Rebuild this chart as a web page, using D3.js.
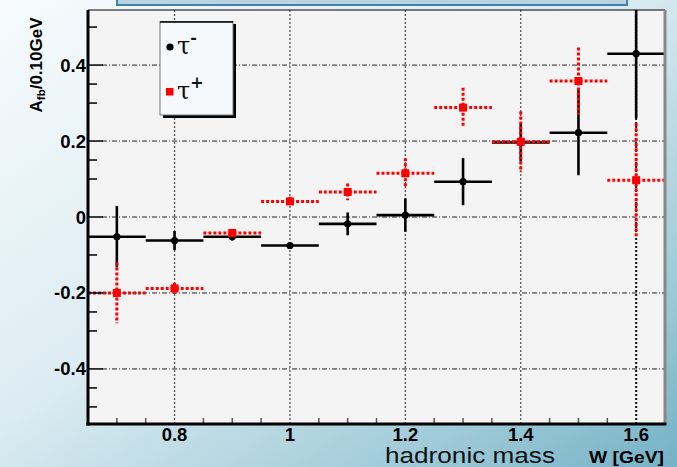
<!DOCTYPE html>
<html>
<head>
<meta charset="utf-8">
<script src="https://cdn.jsdelivr.net/npm/d3@7/dist/d3.min.js"></script>
<style>
  html, body { margin: 0; padding: 0; background: #ffffff; }
  svg { display: block; }
</style>
</head>
<body>
<svg id="chart" width="677" height="467"></svg>
<script>
// Bin centres of the hadronic mass W (GeV), each bin 0.1 GeV wide
const binCentres = [0.7, 0.8, 0.9, 1.0, 1.1, 1.2, 1.3, 1.4, 1.5, 1.6];
const binHalfWidth = 0.05;

// tau- asymmetry per bin and its error
const tauMinusValues = [-0.052, -0.062, -0.052, -0.075, -0.018, 0.005, 0.093, 0.196, 0.222, 0.43];
const tauMinusErrors = [0.081, 0.025, 0.01, 0.008, 0.03, 0.044, 0.062, 0.05, 0.112, 0.17];

// tau+ asymmetry per bin and its error
const tauPlusValues = [-0.2, -0.188, -0.042, 0.041, 0.066, 0.115, 0.288, 0.198, 0.358, 0.097];
const tauPlusErrors = [0.08, 0.015, 0.008, 0.012, 0.022, 0.04, 0.052, 0.08, 0.088, 0.15];

// Axis ticks
const xTickValues = [0.8, 1.0, 1.2, 1.4, 1.6];
const xTickLabels = ["0.8", "1", "1.2", "1.4", "1.6"];
const xMinorTicks = [0.7, 0.75, 0.85, 0.9, 0.95, 1.05, 1.1, 1.15, 1.25, 1.3, 1.35, 1.45, 1.5, 1.55];
const yTickValues = [-0.4, -0.2, 0, 0.2, 0.4];
const yTickLabels = ["-0.4", "-0.2", "0", "0.2", "0.4"];
const yMinorTicks = [0.5, 0.35, 0.3, 0.15, 0.1, -0.1, -0.25, -0.3, -0.45, -0.5];

const legendLabels = ["τ", "τ"];
const legendSupers = ["-", "+"];

const svg = d3.select("#chart");

// Page background gradient
const defs = svg.append("defs");
const bg = defs.append("linearGradient").attr("id", "pageBg")
  .attr("x1", "0").attr("y1", "0").attr("x2", "1").attr("y2", "1");
bg.append("stop").attr("offset", "0").attr("stop-color", "#f7fbfd");
bg.append("stop").attr("offset", "0.45").attr("stop-color", "#dcecf2");
bg.append("stop").attr("offset", "0.8").attr("stop-color", "#9fcad8");
bg.append("stop").attr("offset", "1").attr("stop-color", "#74b2c6");
svg.append("rect").attr("width", 677).attr("height", 467).attr("fill", "url(#pageBg)");

// Banner strip at the top
svg.append("rect").attr("x", 117).attr("y", -6).attr("width", 510).attr("height", 11)
  .attr("fill", "#b9d3e3").attr("stroke", "#3f82aa").attr("stroke-width", 2);

const L = 88, R = 665, T = 10, B = 424;
const x = d3.scaleLinear().domain([0.65, 1.65]).range([L, R]);
const y = d3.scaleLinear().domain([-0.545, 0.545]).range([B, T]);

// Plot area
svg.append("rect").attr("x", L).attr("y", T).attr("width", R - L).attr("height", B - T)
  .attr("fill", "#f4f4f4");

defs.append("clipPath").attr("id", "plotClip")
  .append("rect").attr("x", L).attr("y", T).attr("width", R - L).attr("height", B - T);

// Grid
const grid = svg.append("g");
grid.selectAll("line.h").data(yTickValues).join("line")
  .attr("x1", L + 14).attr("x2", R)
  .attr("y1", d => y(d)).attr("y2", d => y(d))
  .attr("stroke", "#222").attr("stroke-width", 1)
  .attr("stroke-dasharray", "5,2,1,2");
grid.selectAll("line.v").data(xTickValues).join("line")
  .attr("x1", d => x(d)).attr("x2", d => x(d))
  .attr("y1", T).attr("y2", B)
  .attr("stroke", (d, i) => i === 4 ? "#111" : "#555")
  .attr("stroke-width", (d, i) => i === 4 ? 2 : 1.3)
  .attr("stroke-dasharray", "2,2");

// Error-bar series
const plot = svg.append("g").attr("clip-path", "url(#plotClip)");

function drawSeries(values, errors, opts) {
  const g = plot.append("g");
  const rows = binCentres.map((c, i) => ({ c, v: values[i], e: errors[i] }));
  g.selectAll("line.xe").data(rows).join("line")
    .attr("x1", d => x(d.c - binHalfWidth)).attr("x2", d => x(d.c + binHalfWidth))
    .attr("y1", d => y(d.v)).attr("y2", d => y(d.v))
    .attr("stroke", opts.color).attr("stroke-width", opts.width)
    .attr("stroke-dasharray", opts.dash);
  g.selectAll("line.ye").data(rows).join("line")
    .attr("x1", d => x(d.c)).attr("x2", d => x(d.c))
    .attr("y1", d => y(d.v + d.e)).attr("y2", d => y(d.v - d.e))
    .attr("stroke", opts.color).attr("stroke-width", opts.width)
    .attr("stroke-dasharray", opts.dash);
  if (opts.marker === "circle") {
    g.selectAll("circle").data(rows).join("circle")
      .attr("cx", d => x(d.c)).attr("cy", d => y(d.v)).attr("r", 3.6)
      .attr("fill", opts.color);
  } else {
    g.selectAll("rect").data(rows).join("rect")
      .attr("x", d => x(d.c) - 4).attr("y", d => y(d.v) - 4)
      .attr("width", 8).attr("height", 8).attr("fill", opts.color);
  }
}

drawSeries(tauMinusValues, tauMinusErrors, { color: "#000", width: 2.6, dash: null, marker: "circle" });
drawSeries(tauPlusValues, tauPlusErrors, { color: "#ff0000", width: 3, dash: "3,2", marker: "square" });

// Frame
svg.append("line").attr("x1", L).attr("x2", R).attr("y1", T).attr("y2", T)
  .attr("stroke", "#000").attr("stroke-width", 1.2);
svg.append("line").attr("x1", R).attr("x2", R).attr("y1", T).attr("y2", B)
  .attr("stroke", "#888").attr("stroke-width", 3);

// Y axis
const tickFont = "Liberation Sans, Arial, sans-serif";
const yAxis = svg.append("g");
yAxis.selectAll("line.maj").data(yTickValues).join("line")
  .attr("x1", L).attr("x2", L + 15).attr("y1", d => y(d)).attr("y2", d => y(d))
  .attr("stroke", "#000").attr("stroke-width", 1.5);
yAxis.selectAll("line.min").data(yMinorTicks).join("line")
  .attr("x1", L).attr("x2", L + 9).attr("y1", d => y(d)).attr("y2", d => y(d))
  .attr("stroke", "#000").attr("stroke-width", 1.5);
yAxis.selectAll("text").data(yTickValues).join("text")
  .attr("x", L - 2).attr("y", d => y(d) + 6.5)
  .attr("text-anchor", "end")
  .attr("font-family", tickFont)
  .attr("font-weight", "bold").attr("font-size", 18.5)
  .text((d, i) => yTickLabels[i]);
yAxis.append("line").attr("x1", L).attr("x2", L).attr("y1", T).attr("y2", B + 1.5)
  .attr("stroke", "#000").attr("stroke-width", 3);

// X axis
const xAxis = svg.append("g");
xAxis.selectAll("line.min").data(xMinorTicks).join("line")
  .attr("x1", d => x(d)).attr("x2", d => x(d)).attr("y1", B - 6).attr("y2", B)
  .attr("stroke", "#555").attr("stroke-width", 1.5);
xAxis.selectAll("text").data(xTickValues).join("text")
  .attr("x", d => x(d)).attr("y", B + 17)
  .attr("text-anchor", "middle")
  .attr("font-family", tickFont)
  .attr("font-weight", "bold").attr("font-size", 18.5)
  .text((d, i) => xTickLabels[i]);
xAxis.append("line").attr("x1", L - 1.5).attr("x2", R + 1.5).attr("y1", B).attr("y2", B)
  .attr("stroke", "#000").attr("stroke-width", 3);

// Axis titles
const yTitle = svg.append("text")
  .attr("transform", "translate(42,65) rotate(-90)")
  .attr("text-anchor", "middle")
  .attr("font-family", tickFont)
  .attr("font-weight", "bold").attr("font-size", 17);
yTitle.append("tspan").text("A");
yTitle.append("tspan").attr("font-size", 11.5).attr("dy", 3).text("fb");
yTitle.append("tspan").attr("dy", -3).text("/0.10GeV");

svg.append("text").attr("x", 385).attr("y", 463)
  .attr("font-family", tickFont)
  .attr("font-size", 22).attr("textLength", 170).attr("lengthAdjust", "spacingAndGlyphs")
  .attr("fill", "#111")
  .text("hadronic mass");
svg.append("text").attr("x", 664).attr("y", 463)
  .attr("text-anchor", "end")
  .attr("font-family", tickFont)
  .attr("font-weight", "bold").attr("font-size", 17)
  .attr("textLength", 75).attr("lengthAdjust", "spacingAndGlyphs")
  .text("W [GeV]");

// Legend
const lg = svg.append("g");
lg.append("rect").attr("x", 163).attr("y", 24).attr("width", 73).attr("height", 94).attr("fill", "#000");
lg.append("rect").attr("x", 160).attr("y", 21.5).attr("width", 73).attr("height", 93.5)
  .attr("fill", "#f6f9fb").attr("stroke", "#777").attr("stroke-width", 1);
lg.append("line").attr("x1", 160).attr("x2", 233).attr("y1", 22).attr("y2", 22)
  .attr("stroke", "#000").attr("stroke-width", 1.5);
lg.append("circle").attr("cx", 170).attr("cy", 47).attr("r", 3.6).attr("fill", "#000");
lg.append("rect").attr("x", 166).attr("y", 88).attr("width", 7.5).attr("height", 7.5).attr("fill", "#ff0000");
[54, 99].forEach((yy, i) => {
  const t = lg.append("text").attr("x", 177).attr("y", yy)
    .attr("font-family", "DejaVu Serif, Liberation Serif, serif")
    .attr("font-size", 24).attr("fill", "#111");
  t.append("tspan").text(legendLabels[i]);
  t.append("tspan").attr("font-size", 16).attr("dy", -11).attr("font-weight", "bold").text(legendSupers[i]);
});
</script>
</body>
</html>
